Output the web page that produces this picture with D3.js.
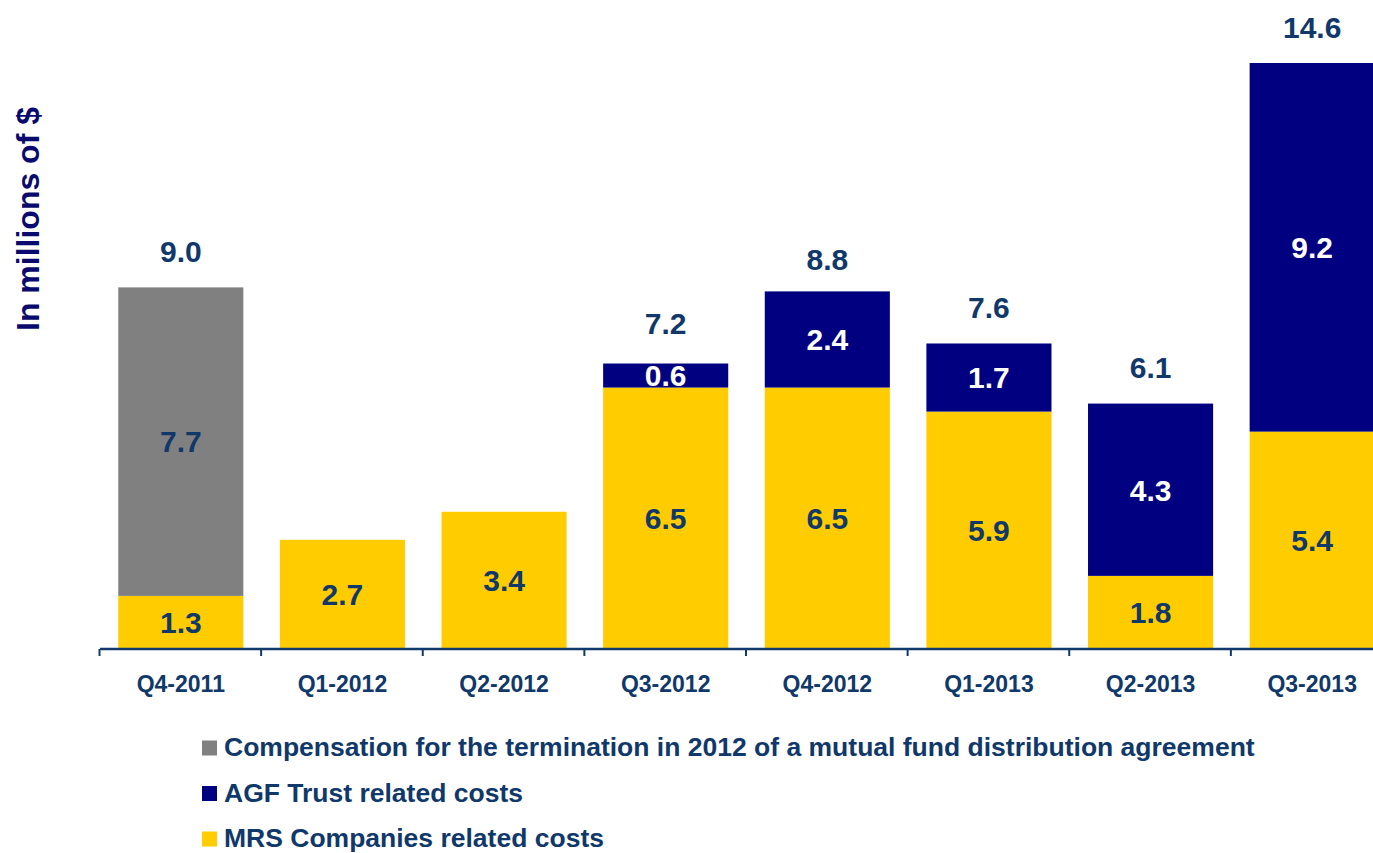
<!DOCTYPE html>
<html>
<head>
<meta charset="utf-8">
<script src="https://cdn.jsdelivr.net/npm/d3@7"></script>
<style>
  html, body { margin: 0; padding: 0; background: #fff; }
  svg { display: block; font-family: "Liberation Sans", Arial, sans-serif; }
</style>
</head>
<body>
<svg id="chart" width="1373" height="853"></svg>
<script>
// Quarterly costs, in millions of dollars
const quarters = ["Q4-2011", "Q1-2012", "Q2-2012", "Q3-2012", "Q4-2012", "Q1-2013", "Q2-2013", "Q3-2013"];
const mrsCosts = [1.3, 2.7, 3.4, 6.5, 6.5, 5.9, 1.8, 5.4];
const agfCosts = [0, 0, 0, 0.6, 2.4, 1.7, 4.3, 9.2];
const compensation = [7.7, 0, 0, 0, 0, 0, 0, 0];
const totals = [9.0, null, null, 7.2, 8.8, 7.6, 6.1, 14.6];

const seriesKeys = ["mrs", "agf", "comp"];
const seriesNames = {
  comp: "Compensation for the termination in 2012 of a mutual fund distribution agreement",
  agf: "AGF Trust related costs",
  mrs: "MRS Companies related costs"
};
const colors = { mrs: "#FFCC00", agf: "#000080", comp: "#808080" };
const labelColors = { mrs: "#10386A", agf: "#FFFFFF", comp: "#10386A" };
const textColor = "#10386A";

const rows = quarters.map((q, i) => ({ quarter: q, mrs: mrsCosts[i], agf: agfCosts[i], comp: compensation[i], total: totals[i] }));

const svg = d3.select("#chart");
const baseY = 648;

const x = d3.scaleBand()
  .domain(quarters)
  .range([100, 1393])
  .paddingInner(0.226)
  .paddingOuter(0.113);

const y = d3.scaleLinear()
  .domain([0, 14.6])
  .range([baseY, 63]);

const stacked = d3.stack().keys(seriesKeys)(rows);

const layers = svg.append("g").selectAll("g")
  .data(stacked)
  .join("g")
  .attr("fill", d => colors[d.key]);

layers.selectAll("rect")
  .data(d => d.filter(s => s[1] - s[0] > 0))
  .join("rect")
  .attr("x", d => x(d.data.quarter))
  .attr("width", x.bandwidth())
  .attr("y", d => y(d[1]))
  .attr("height", d => y(d[0]) - y(d[1]));

// Segment value labels
stacked.forEach(layer => {
  svg.append("g").selectAll("text")
    .data(layer.filter(s => s[1] - s[0] > 0))
    .join("text")
    .attr("x", d => x(d.data.quarter) + x.bandwidth() / 2)
    .attr("y", d => (y(d[0]) + y(d[1])) / 2)
    .attr("dy", "0.36em")
    .attr("text-anchor", "middle")
    .attr("font-size", 30)
    .attr("font-weight", "bold")
    .attr("fill", labelColors[layer.key])
    .text(d => d3.format(".1f")(d[1] - d[0]));
});

// Totals above stacked bars
svg.append("g").selectAll("text")
  .data(rows.filter(r => r.total !== null))
  .join("text")
  .attr("x", d => x(d.quarter) + x.bandwidth() / 2)
  .attr("y", d => y(d.total) - 25.5)
  .attr("text-anchor", "middle")
  .attr("font-size", 30)
  .attr("font-weight", "bold")
  .attr("fill", textColor)
  .text(d => d3.format(".1f")(d.total));

// Category axis
const axis = svg.append("g").attr("transform", `translate(0,${baseY})`);
axis.append("line")
  .attr("x1", 100).attr("x2", 1373)
  .attr("y1", 1).attr("y2", 1)
  .attr("stroke", textColor).attr("stroke-width", 2.5);
axis.selectAll("line.tick")
  .data(quarters)
  .join("line")
  .attr("class", "tick")
  .attr("x1", d => x(d) - x.step() * x.paddingInner() / 2 - 0.5)
  .attr("x2", d => x(d) - x.step() * x.paddingInner() / 2 - 0.5)
  .attr("y1", 1).attr("y2", 8)
  .attr("stroke", textColor).attr("stroke-width", 2);
axis.selectAll("text")
  .data(quarters)
  .join("text")
  .attr("x", d => x(d) + x.bandwidth() / 2)
  .attr("y", 44)
  .attr("text-anchor", "middle")
  .attr("font-size", 23)
  .attr("font-weight", "bold")
  .attr("fill", textColor)
  .text(d => d);

// Y axis title
svg.append("text")
  .attr("transform", "translate(39,219) rotate(-90)")
  .attr("text-anchor", "middle")
  .attr("font-size", 32)
  .attr("font-weight", "bold")
  .attr("fill", "#0A0A6E")
  .text("In millions of $");

// Legend
const legendOrder = ["comp", "agf", "mrs"];
const legend = svg.append("g").selectAll("g")
  .data(legendOrder)
  .join("g")
  .attr("transform", (d, i) => `translate(202,${748 + i * 45.5})`);
legend.append("rect")
  .attr("x", 0).attr("y", -7.5)
  .attr("width", 15).attr("height", 15)
  .attr("fill", d => colors[d]);
legend.append("text")
  .attr("x", 22)
  .attr("y", 8)
  .attr("font-size", 26.5)
  .attr("font-weight", "bold")
  .attr("fill", textColor)
  .text(d => seriesNames[d]);
</script>
</body>
</html>
